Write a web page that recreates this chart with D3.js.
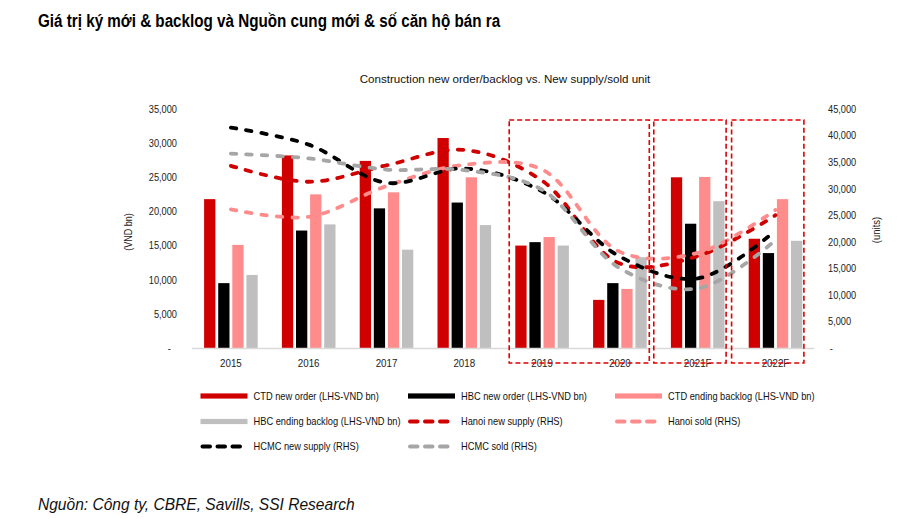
<!DOCTYPE html>
<html><head><meta charset="utf-8">
<script src="https://cdn.jsdelivr.net/npm/d3@7"></script>
<style>
body{margin:0;background:#fff;}
svg{display:block;}
text{font-family:"Liberation Sans",Arial,sans-serif;}
</style></head>
<body><svg id="c" width="900" height="519"></svg>
<script>
const categories = ["2015","2016","2017","2018","2019","2020","2021F","2022F"];
// Bars (LHS, VND bn)
const ctdNewOrder   = [21800, 28200, 27400, 30750, 15000, 7050, 25000, 16000];
const hbcNewOrder   = [9500, 17200, 20450, 21300, 15500, 9500, 18200, 13900];
const ctdBacklog    = [15100, 22500, 22800, 25000, 16250, 8650, 25050, 21800];
const hbcBacklog    = [10700, 18100, 14400, 18000, 15000, 13300, 21500, 15700];
// Lines (RHS, units)
const hanoiSupply   = [34300, 31300, 34400, 37300, 31500, 15900, 17300, 25000];
const hanoiSold     = [26100, 24700, 30500, 34500, 33600, 18100, 17900, 26000];
const hcmcSupply    = [41500, 38300, 31100, 33800, 29500, 17200, 13100, 22100];
const hcmcSold      = [36600, 35700, 33600, 33500, 29800, 15000, 11200, 20300];
const leftTicks  = [0,5000,10000,15000,20000,25000,30000,35000];
const rightTicks = [0,5000,10000,15000,20000,25000,30000,35000,40000,45000];
const highlightGroups = [["2019","2020"],["2021F"],["2022F"]];

const barSeries = [
  {name:"CTD new order (LHS-VND bn)", values:ctdNewOrder, color:"#d10000"},
  {name:"HBC new order (LHS-VND bn)", values:hbcNewOrder, color:"#000000"},
  {name:"CTD ending backlog (LHS-VND bn)", values:ctdBacklog, color:"#ff8c8c"},
  {name:"HBC ending backlog (LHS-VND bn)", values:hbcBacklog, color:"#bfbfbf"}
];
const lineSeries = [
  {name:"Hanoi new supply (RHS)", values:hanoiSupply, color:"#d10000"},
  {name:"Hanoi sold (RHS)", values:hanoiSold, color:"#ff8c8c"},
  {name:"HCMC new supply (RHS)", values:hcmcSupply, color:"#000000"},
  {name:"HCMC sold (RHS)", values:hcmcSold, color:"#a6a6a6"}
];

const svg = d3.select("#c");
const plotTop = 109, plotBottom = 348, plotLeft = 192, plotRight = 814.4;

function txt(x, y, s, size, sx, opts={}){
  const t = svg.append("text")
    .attr("transform", `translate(${x},${y})${opts.rot?` rotate(${opts.rot})`:""} scale(${sx},1)`)
    .attr("font-size", size).attr("fill", opts.fill||"#111").text(s);
  if(opts.anchor) t.attr("text-anchor", opts.anchor);
  if(opts.weight) t.attr("font-weight", opts.weight);
  if(opts.style) t.attr("font-style", opts.style);
  return t;
}

// Titles
txt(38, 27, "Giá trị ký mới & backlog và Nguồn cung mới & số căn hộ bán ra", 17.5, 0.87, {weight:"bold", fill:"#000"});
txt(505, 83, "Construction new order/backlog vs. New supply/sold unit", 11.6, 1, {anchor:"middle"});

const x0 = d3.scaleBand().domain(categories).range([plotLeft, plotRight]).padding(0);
const groupW = 53.6;
const x1 = d3.scaleBand().domain(barSeries.map(d=>d.name)).range([0, groupW]).paddingInner(0.2).paddingOuter(0);
const yL = d3.scaleLinear().domain([0,35000]).range([plotBottom, plotTop]);
const yR = d3.scaleLinear().domain([0,45000]).range([plotBottom, plotTop]);
const fmt = d => d===0 ? "-" : d3.format(",")(d);

// Bars
const gOff = (x0.bandwidth()-groupW)/2;
barSeries.forEach(s=>{
  svg.append("g").selectAll("rect").data(s.values).join("rect")
    .attr("x",(d,i)=>x0(categories[i])+gOff+x1(s.name))
    .attr("width",x1.bandwidth())
    .attr("y",d=>yL(d)).attr("height",d=>yL(0)-yL(d))
    .attr("fill",s.color);
});

// Axis baseline
svg.append("line").attr("x1",plotLeft).attr("x2",plotRight).attr("y1",plotBottom+0.5).attr("y2",plotBottom+0.5)
  .attr("stroke","#d9d9d9").attr("stroke-width",1.5);

// Left axis
const la = svg.append("g").attr("transform",`translate(${177},0)`)
  .call(d3.axisLeft(yL).tickValues(leftTicks).tickFormat(fmt).tickSize(0).tickPadding(0));
la.select(".domain").remove();
la.selectAll("text").attr("font-size",10.5).attr("fill","#222").attr("font-family","'Liberation Sans',Arial,sans-serif")
  .attr("transform","scale(0.88,1)");
la.selectAll(".tick").filter(d=>d===0).select("text").attr("dx",-7);
// Right axis
const ra = svg.append("g").attr("transform",`translate(${828},0)`)
  .call(d3.axisRight(yR).tickValues(rightTicks).tickFormat(fmt).tickSize(0).tickPadding(0));
ra.select(".domain").remove();
ra.selectAll("text").attr("font-size",10.5).attr("fill","#222").attr("font-family","'Liberation Sans',Arial,sans-serif")
  .attr("transform","scale(0.88,1)");
ra.selectAll(".tick").filter(d=>d===0).select("text").attr("dx",2);

txt(132, 232, "(VND bn)", 10, 0.9, {rot:-90, anchor:"middle", fill:"#222"});
txt(880, 230, "(units)", 10, 0.95, {rot:-90, anchor:"middle", fill:"#222"});

// X labels
categories.forEach(c=>{
  txt(x0(c)+x0.bandwidth()/2, 367, c, 10.5, 0.93, {anchor:"middle", fill:"#222"});
});

// Lines
const line = d3.line().x((d,i)=>x0(categories[i])+x0.bandwidth()/2).y(d=>yR(d)).curve(d3.curveCatmullRom.alpha(0.5));
lineSeries.forEach(s=>{
  svg.append("path").attr("d",line(s.values)).attr("fill","none").attr("stroke",s.color)
    .attr("stroke-width",3.8).attr("stroke-dasharray","5.5,10").attr("stroke-linecap","round");
});

// Highlight boxes
const boxOff = [[6,-9.5],[-5,-10.5],[-5,-10.5]];
highlightGroups.forEach((g,k)=>{
  const xa = x0(g[0]) + boxOff[k][0];
  const xb = x0(g[g.length-1]) + x0.bandwidth() + boxOff[k][1];
  svg.append("rect").attr("x",xa).attr("y",120).attr("width",xb-xa).attr("height",243)
    .attr("fill","none").attr("stroke","#e00000").attr("stroke-width",1.6).attr("stroke-dasharray","5,3");
});

// Legend
const legendItems = [
  {s:barSeries[0], type:"bar", col:0, row:0},
  {s:barSeries[1], type:"bar", col:1, row:0},
  {s:barSeries[2], type:"bar", col:2, row:0},
  {s:barSeries[3], type:"bar", col:0, row:1},
  {s:lineSeries[0], type:"line", col:1, row:1},
  {s:lineSeries[1], type:"line", col:2, row:1},
  {s:lineSeries[2], type:"line", col:0, row:2},
  {s:lineSeries[3], type:"line", col:1, row:2}
];
const colX = [200.5, 408, 615];
const rowY = [396, 421.5, 446.5];
legendItems.forEach(it=>{
  const lx = colX[it.col], ly = rowY[it.row];
  if(it.type==="bar"){
    svg.append("rect").attr("x",lx).attr("y",ly-2.6).attr("width",47).attr("height",5.2).attr("fill",it.s.color);
  } else {
    svg.append("line").attr("x1",lx+2).attr("x2",lx+47).attr("y1",ly).attr("y2",ly)
      .attr("stroke",it.s.color).attr("stroke-width",4).attr("stroke-linecap","round").attr("stroke-dasharray","7.5,7.5");
  }
  txt(lx+53, ly+3.6, it.s.name, 10, 0.93, {fill:"#111"});
});

// Source
txt(38, 510, "Nguồn: Công ty, CBRE, Savills, SSI Research", 17, 0.915, {style:"italic", fill:"#111"});
</script></body></html>
